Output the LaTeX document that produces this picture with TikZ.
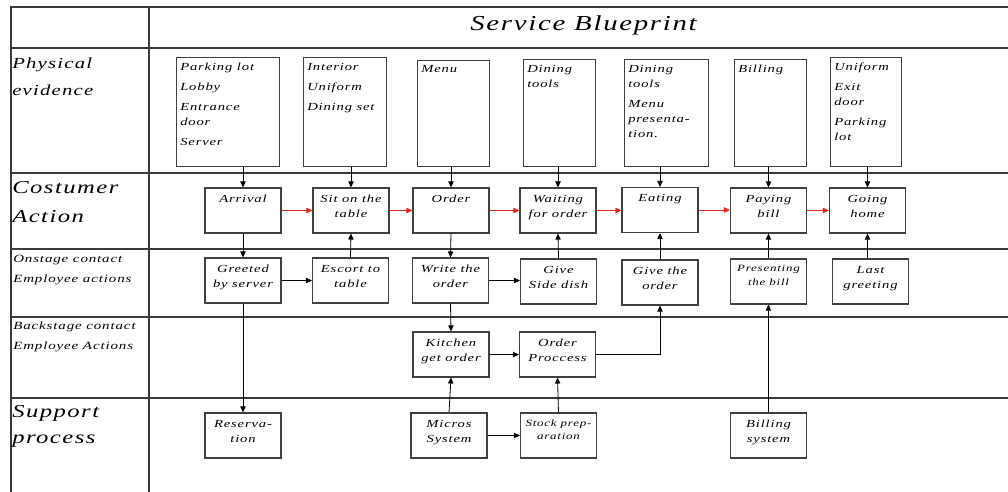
\documentclass[tikz,border=0pt]{standalone}
\usepackage{fontspec}
\setmainfont{Liberation Serif}[FakeStretch=1.35,LetterSpace=8]
\usetikzlibrary{arrows.meta, calc}
\definecolor{lineGray}{HTML}{3A3A3A}
\definecolor{boxGray}{HTML}{404040}
\definecolor{flowRed}{HTML}{E8261C}
\tikzset{
  actionbox/.style={draw=boxGray, line width=0.8pt, minimum width=57pt, inner sep=0pt, align=center,
    text height=21.75pt, text depth=12pt, font=\itshape\fontsize{8.1}{11.25}\selectfont},
  oneline/.style={text height=10.5pt, text depth=23.25pt},
  smalltext/.style={font=\itshape\fontsize{7.2}{9.75}\selectfont, text height=19.5pt, text depth=14.25pt},
  evidcard/.style={draw=boxGray, line width=0.8pt, anchor=north west, inner sep=0pt},
  evidtext/.style={anchor=north west, inner sep=0pt, align=left, font=\itshape\fontsize{8.1}{11.25}\selectfont},
  lanetext/.style={anchor=north west, inner sep=0pt, align=left},
  flowarr/.style={-{Triangle[length=4.5pt,width=4pt]}, line width=0.6pt},
  redarr/.style={flowarr, flowRed},
}

\begin{document}
\begin{tikzpicture}[x=0.75pt, y=-0.75pt]
    \useasboundingbox (0,0) rectangle (1008,492);
    % table frame and lanes
    \draw[lineGray, line width=0.9pt] (11,492) -- (11,7) -- (1008,7);
    \draw[lineGray, line width=0.9pt] (149,7) -- (149,492);
    \foreach \ly in {48,173,249,317,398}
      \draw[lineGray, line width=0.9pt] (11,\ly) -- (1008,\ly);
    \node[font=\itshape\fontsize{16}{19}\selectfont] (title) at (583.5,25) {Service Blueprint};

    \node[lanetext, font=\itshape\fontsize{11.5}{20}\selectfont] (lphys) at (12,58) {Physical\\evidence};
    \node[lanetext, font=\itshape\fontsize{13.7}{21.75}\selectfont] (lcust) at (12,181) {Costumer\\Action};
    \node[lanetext, font=\itshape\fontsize{8.3}{15}\selectfont] (lon) at (13,255) {Onstage contact\\Employee actions};
    \node[lanetext, font=\itshape\fontsize{8.3}{15}\selectfont] (lback) at (13,322) {Backstage contact\\Employee Actions};
    \node[lanetext, font=\itshape\fontsize{13.7}{19.5}\selectfont] (lsup) at (12,405) {Support\\process};

    % physical evidence
    \node[evidcard, minimum width=77pt, minimum height=82pt] (pe1) at (176,57) {};
    \node[evidcard, minimum width=62pt, minimum height=82pt] (pe2) at (303,57) {};
    \node[evidcard, minimum width=54pt, minimum height=79.5pt] (pe3) at (417,60) {};
    \node[evidcard, minimum width=54pt, minimum height=80.25pt] (pe4) at (523,59) {};
    \node[evidcard, minimum width=63pt, minimum height=80.25pt] (pe5) at (624,59) {};
    \node[evidcard, minimum width=54pt, minimum height=80.25pt] (pe6) at (734,59) {};
    \node[evidcard, minimum width=53pt, minimum height=82pt] (pe7) at (830,57) {};
    \node[evidtext] at ($(pe1.north west)+(4,6)$) {Parking lot\\[3.75pt] Lobby\\[3.75pt] Entrance\\ door\\[3.75pt] Server};
    \node[evidtext] at ($(pe2.north west)+(4,6)$) {Interior\\[3.75pt] Uniform\\[3.75pt] Dining set};
    \node[evidtext] at ($(pe3.north west)+(4,5)$) {Menu};
    \node[evidtext] at ($(pe4.north west)+(4,6)$) {Dining\\ tools};
    \node[evidtext] at ($(pe5.north west)+(4,6)$) {Dining\\ tools\\[3.75pt] Menu\\ presenta-\\ tion.};
    \node[evidtext] at ($(pe6.north west)+(4,6)$) {Billing};
    \node[evidtext] at ($(pe7.north west)+(4,6)$) {Uniform\\[3.75pt] Exit\\ door\\[3.75pt] Parking\\ lot};

    % customer actions
    \node[actionbox, oneline] (arr) at (243,210.5) {Arrival};
    \node[actionbox] (sit) at (351,210.5) {Sit on the\\table};
    \node[actionbox, oneline] (ord) at (451,210.5) {Order};
    \node[actionbox] (wait) at (558,210.5) {Waiting\\for order};
    \node[actionbox, oneline] (eat) at (660,210) {Eating};
    \node[actionbox] (pay) at (768.5,210.5) {Paying\\bill};
    \node[actionbox] (home) at (867.5,210.5) {Going\\home};

    % onstage
    \node[actionbox] (greet) at (243,280.5) {Greeted\\by server};
    \node[actionbox] (escort) at (350.5,280.5) {Escort to\\table};
    \node[actionbox] (write) at (450.5,280.5) {Write the\\order};
    \node[actionbox] (side) at (558.5,281.5) {Give\\Side dish};
    \node[actionbox] (give) at (660,282.5) {Give the\\order};
    \node[actionbox, smalltext] (present) at (768.5,281.5) {Presenting\\the bill};
    \node[actionbox] (last) at (870.5,281.5) {Last\\greeting};

    % backstage
    \node[actionbox] (kitchen) at (451,354.5) {Kitchen\\get order};
    \node[actionbox] (proc) at (557.5,354.5) {Order\\Proccess};

    % support
    \node[actionbox] (resv) at (243,435.5) {Reserva-\\tion};
    \node[actionbox] (micros) at (449,435.5) {Micros\\System};
    \node[actionbox, smalltext] (stock) at (558.5,435.5) {Stock prep-\\aration};
    \node[actionbox] (billsys) at (768.5,435.5) {Billing\\system};

    % evidence to actions
    \draw[flowarr] (pe1.south -| arr) -- (arr.north);
    \draw[flowarr] (pe2.south -| sit) -- (sit.north);
    \draw[flowarr] (pe3.south -| ord) -- (ord.north);
    \draw[flowarr] (pe4.south -| wait) -- (wait.north);
    \draw[flowarr] (pe5.south -| eat) -- (eat.north);
    \draw[flowarr] (pe6.south -| pay) -- (pay.north);
    \draw[flowarr] (pe7.south -| home) -- (home.north);

    % customer journey
    \draw[redarr] (arr.east) -- (sit.west);
    \draw[redarr] (sit.east) -- (ord.west);
    \draw[redarr] (ord.east) -- (wait.west);
    \draw[redarr] (wait.east) -- (wait.east -| eat.west);
    \draw[redarr] (eat.east) -- (eat.east -| pay.west);
    \draw[redarr] (pay.east) -- (home.west);

    \draw[flowarr] (arr.south) -- (greet.north);
    \draw[flowarr] (escort.north) -- (sit.south);
    \draw[flowarr] (ord.south) -- (write.north);
    \draw[flowarr] (greet.east) -- (escort.west);
    \draw[flowarr] (write.east) -- (write.east -| side.west);
    \draw[flowarr] (side.north) -- (wait.south);
    \draw[flowarr] (give.north) -- (eat.south);
    \draw[flowarr] (present.north) -- (pay.south);
    \draw[flowarr] (last.north -| home) -- (home.south);

    \draw[flowarr] (greet.south) -- (resv.north);
    \draw[flowarr] (write.south) -- (kitchen.north);
    \draw[flowarr] (kitchen.east) -- (proc.west);
    \draw[flowarr] (proc.east) -| (give.south);
    \draw[flowarr] (micros.north) -- (kitchen.south);
    \draw[flowarr] (micros.east) -- (stock.west);
    \draw[flowarr] (stock.north) -- (proc.south);
    \draw[flowarr] (billsys.north) -- (present.south);
  \end{tikzpicture}
\end{document}
